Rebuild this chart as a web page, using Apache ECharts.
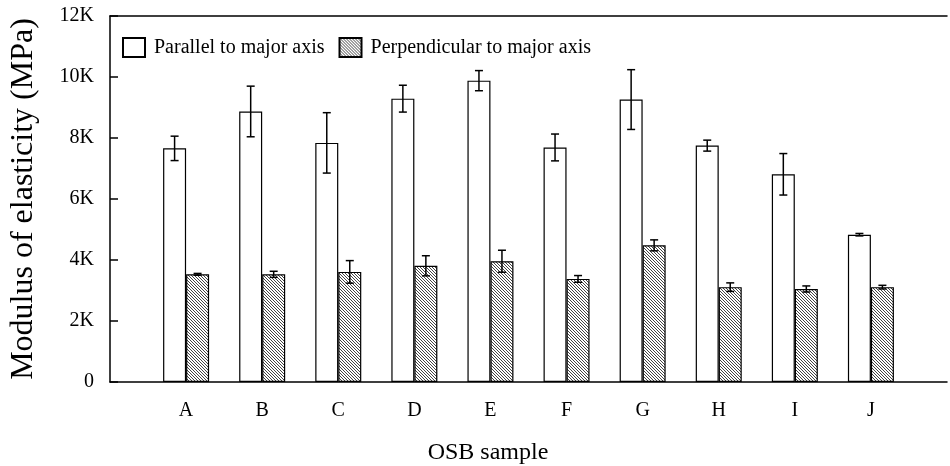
<!DOCTYPE html>
<html>
<head>
<meta charset="utf-8">
<script src="https://cdn.jsdelivr.net/npm/echarts@6/dist/echarts.min.js"></script>
<style>html,body{margin:0;padding:0;background:#fff;}#chart{width:950px;height:466px;}</style>
</head>
<body>
<div id="chart"></div>
<script>
const categories = ['A','B','C','D','E','F','G','H','I','J'];
const parallelValues = [7660, 8870, 7840, 9290, 9880, 7690, 9260, 7750, 6810, 4830];
const parallelErrors = [400, 830, 990, 440, 330, 440, 980, 180, 680, 40];
const perpValues = [3530, 3530, 3610, 3810, 3960, 3380, 4480, 3110, 3050, 3110];
const perpErrors = [30, 100, 370, 330, 360, 110, 180, 140, 100, 60];
const yTicks = ['0','2K','4K','6K','8K','10K','12K'];
const seriesNames = ['Parallel to major axis', 'Perpendicular to major axis'];

const FONT = '"Liberation Serif", "Times New Roman", serif';
const BAR_W = 23;

// hatch pattern
const pc = document.createElement('canvas');
pc.width = 6; pc.height = 6;
const pctx = pc.getContext('2d');
pctx.fillStyle = '#fff'; pctx.fillRect(0,0,6,6);
pctx.strokeStyle = '#444'; pctx.lineWidth = 1;
pctx.beginPath();
for (let k = -6; k <= 6; k += 3) { pctx.moveTo(k, 0); pctx.lineTo(k + 6, 6); }
pctx.stroke();

const axisData = [''].concat(categories, ['']);
const pad = arr => [null].concat(arr, [null]);

function errSeries(values, errors, offset) {
  const data = values.map((v, i) => [i + 1, v, errors[i]]);
  return {
    type: 'custom',
    xAxisIndex: 0, yAxisIndex: 0,
    z: 10,
    silent: true,
    data: data,
    renderItem: function (params, api) {
      const x = api.value(0), v = api.value(1), e = api.value(2);
      const top = api.coord([x, v + e]);
      const bot = api.coord([x, v - e]);
      const cx = top[0] + offset;
      const cap = 4;
      const st = { stroke: '#000', lineWidth: 1.5 };
      return {
        type: 'group',
        children: [
          { type: 'line', shape: { x1: cx, y1: top[1], x2: cx, y2: bot[1] }, style: st },
          { type: 'line', shape: { x1: cx - cap, y1: top[1], x2: cx + cap, y2: top[1] }, style: st },
          { type: 'line', shape: { x1: cx - cap, y1: bot[1], x2: cx + cap, y2: bot[1] }, style: st }
        ]
      };
    }
  };
}

const chart = echarts.init(document.getElementById('chart'), null, { renderer: 'canvas' });
chart.setOption({
  animation: false,
  backgroundColor: '#fff',
  textStyle: { fontFamily: FONT, color: '#000' },
  grid: { left: 108, top: 16, right: 0, bottom: 84, containLabel: false },
  legend: {
    data: seriesNames,
    left: 117, top: 32,
    icon: 'rect',
    itemWidth: 22, itemHeight: 19,
    itemGap: 14,
    textStyle: { fontFamily: FONT, fontSize: 20, color: '#000', padding: [0, 0, 0, 4] }
  },
  xAxis: [{
    type: 'category',
    data: axisData,
    boundaryGap: false,
    axisLine: { lineStyle: { color: '#000', width: 1.5 } },
    axisTick: { show: false },
    axisLabel: { fontFamily: FONT, fontSize: 20, color: '#000', margin: 19 },
    splitLine: { show: false }
  }, {
    type: 'value', position: 'top', min: 0, max: 1,
    axisLine: { show: true, lineStyle: { color: '#000', width: 1.5 } },
    axisTick: { show: false }, axisLabel: { show: false }, splitLine: { show: false }
  }],
  yAxis: {
    type: 'value', min: 0, max: 12000, interval: 2000,
    name: 'Modulus of elasticity (MPa)',
    nameLocation: 'middle', nameGap: 70,
    nameTextStyle: { fontFamily: FONT, fontSize: 32, color: '#000' },
    axisLine: { show: true, lineStyle: { color: '#000', width: 1.5 } },
    axisTick: { show: true, inside: true, length: 8, lineStyle: { color: '#000', width: 1.5 } },
    axisLabel: { fontFamily: FONT, fontSize: 20, color: '#000', margin: 16,
      formatter: function (v) { return yTicks[Math.round(v / 2000)]; } },
    splitLine: { show: false }
  },
  graphic: [{
    type: 'text', x: 488, y: 453,
    style: { text: 'OSB sample', fontFamily: FONT, fontSize: 24, fill: '#000', textAlign: 'center', textVerticalAlign: 'middle' }
  }],
  series: [{
    name: seriesNames[0], type: 'bar', barWidth: BAR_W, barGap: '0%',
    data: pad(parallelValues),
    itemStyle: { color: '#fff', borderColor: '#000', borderWidth: 1.2 }
  }, {
    name: seriesNames[1], type: 'bar', barWidth: BAR_W, barGap: '0%',
    data: pad(perpValues),
    itemStyle: { color: { image: pc, repeat: 'repeat' }, borderColor: '#000', borderWidth: 1.2 }
  },
  errSeries(parallelValues, parallelErrors, -BAR_W / 2),
  errSeries(perpValues, perpErrors, BAR_W / 2)
  ]
});
</script>
</body>
</html>
